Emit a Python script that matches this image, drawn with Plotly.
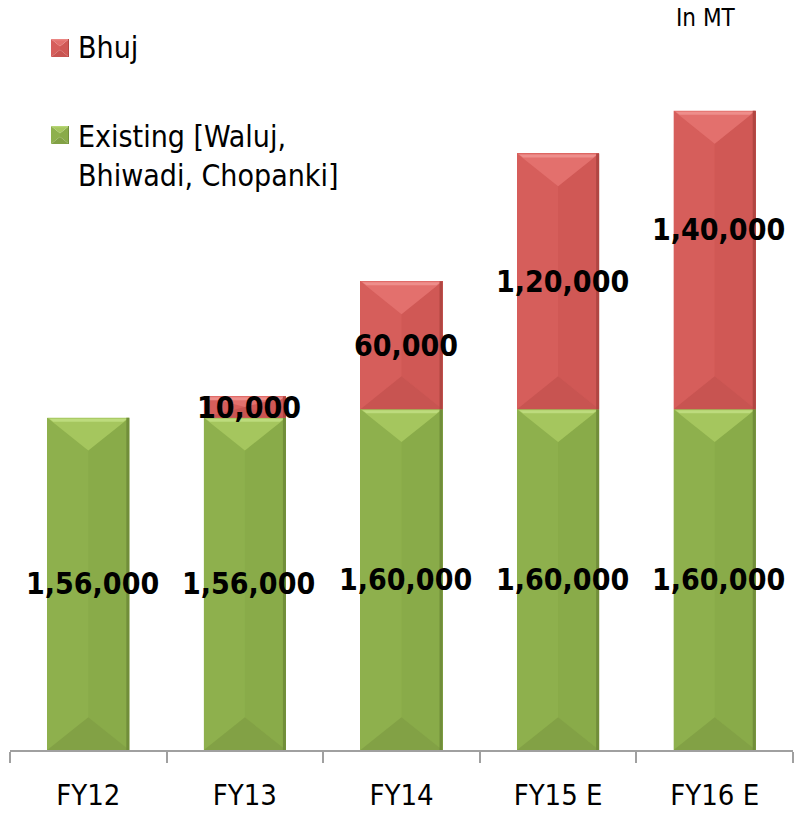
import plotly.graph_objects as go

# ---- data -------------------------------------------------------------
categories = ["FY12", "FY13", "FY14", "FY15 E", "FY16 E"]
existing = [156000, 156000, 160000, 160000, 160000]
bhuj = [0, 10000, 60000, 120000, 140000]
series_names = ["Bhuj", "Existing [Waluj,<br>Bhiwadi, Chopanki]"]
unit_note = "In MT"


def indian_format(v):
    s = str(int(v))
    if len(s) <= 3:
        return s
    head, tail = s[:-3], s[-3:]
    parts = []
    while len(head) > 2:
        parts.insert(0, head[-2:])
        head = head[:-2]
    if head:
        parts.insert(0, head)
    return ",".join(parts) + "," + tail


# ---- layout constants -------------------------------------------------
W, H = 794, 815
ML, MR, MT, MB = 10, 1, 15, 65
PW, PH = W - ML - MR, H - MT - MB
Y_MAX = 345000
BAR_W = 0.524            # in category units
FONT = "DejaVu Sans Condensed, DejaVu Sans, sans-serif"

# facet palettes: body-left, body-right, top, bottom, highlight, edge
GREEN = dict(left="#8eb04d", right="#89ab49", top="#a5c65e",
             bottom="#82a145", hi="#bddb7d", edge="#718e3a")
RED = dict(left="#d65e5b", right="#d05855", top="#e3706d",
           bottom="#c85451", hi="#ee8e8b", edge="#b04642")

# per-label pixel nudges for data labels
label_shift = {("bhuj", "FY16 E"): 31}

px_per_unit = PH / Y_MAX
cat_px = PW / len(categories)
half_w = BAR_W / 2
bevel_depth = 0.8 * (BAR_W * cat_px / 2) / px_per_unit   # data units
x_per_px = 1.0 / cat_px
y_per_px = 1.0 / px_per_unit


def poly(pts, color, xref="x", yref="y"):
    d = "M " + " L ".join(f"{x},{y}" for x, y in pts) + " Z"
    return dict(type="path", path=d, xref=xref, yref=yref,
                fillcolor=color, line=dict(width=0), layer="above")


def bevel(c, y0, y1, pal, hw, dd, xpx, ypx, xref="x", yref="y"):
    x0, x1 = c - hw, c + hw
    dd = min(dd, (y1 - y0) / 2)
    out = [
        poly([(x0, y1), (c, y1 - dd), (c, y0 + dd), (x0, y0)], pal["left"], xref, yref),
        poly([(x1, y1), (c, y1 - dd), (c, y0 + dd), (x1, y0)], pal["right"], xref, yref),
        poly([(x0, y0), (x1, y0), (c, y0 + dd)], pal["bottom"], xref, yref),
        poly([(x0, y1), (x1, y1), (c, y1 - dd)], pal["top"], xref, yref),
        # soft highlight along the top edge
        poly([(x0 + 2 * xpx, y1 - 1 * ypx), (x1 - 2 * xpx, y1 - 1 * ypx),
              (x1 - 6 * xpx, y1 - 4 * ypx), (x0 + 6 * xpx, y1 - 4 * ypx)],
             pal["hi"], xref, yref),
        # darker rim on the right side
        poly([(x1 - 3 * xpx, y1), (x1, y1), (x1, y0), (x1 - 3 * xpx, y0)],
             pal["edge"], xref, yref),
    ]
    return out


fig = go.Figure()
fig.add_trace(go.Bar(x=categories, y=existing, width=BAR_W, name="Existing",
                     marker=dict(color=GREEN["left"], line=dict(width=0)),
                     showlegend=False, hoverinfo="skip"))
fig.add_trace(go.Bar(x=categories, y=bhuj, width=BAR_W, name="Bhuj",
                     marker=dict(color=RED["left"], line=dict(width=0)),
                     showlegend=False, hoverinfo="skip"))

shapes = []
annotations = []
for i, cat in enumerate(categories):
    e, b = existing[i], bhuj[i]
    shapes += bevel(i, 0, e, GREEN, half_w, bevel_depth, x_per_px, y_per_px)
    annotations.append(dict(x=i, y=e / 2, xref="x", yref="y",
                            text=f"<b>{indian_format(e)}</b>", showarrow=False,
                            xanchor="center", yanchor="middle",
                            xshift=4, yshift=label_shift.get(("existing", cat), 0),
                            font=dict(family=FONT, size=30, color="black")))
    if b > 0:
        shapes += bevel(i, e, e + b, RED, half_w, bevel_depth, x_per_px, y_per_px)
        annotations.append(dict(x=i, y=e + b / 2, xref="x", yref="y",
                                text=f"<b>{indian_format(b)}</b>", showarrow=False,
                                xanchor="center", yanchor="middle",
                                xshift=4, yshift=label_shift.get(("bhuj", cat), 0),
                                font=dict(family=FONT, size=30, color="black")))


# ---- legend drawn in paper space ----------------------------------------
def xp(px):
    return (px - ML) / PW


def yp(py):
    return (H - MB - py) / PH


SW = 18
legend_rows = [(RED, series_names[0], 48), (GREEN, series_names[1], 135)]
for pal, label, cy in legend_rows:
    cx = 60
    hw_p = (SW / 2) / PW
    dd_p = 0.8 * (SW / 2) / PH
    shapes += bevel(xp(cx), yp(cy + SW / 2), yp(cy - SW / 2), pal, hw_p, dd_p,
                    0.3 / PW, 0.3 / PH, xref="paper", yref="paper")
    multi = "<br>" in label
    annotations.append(dict(x=xp(76), y=yp(cy - 18 if multi else cy),
                            xref="paper", yref="paper", text=label,
                            showarrow=False, xanchor="left",
                            yanchor="top" if multi else "middle", align="left",
                            font=dict(family=FONT, size=30, color="black")))

annotations.append(dict(x=xp(706), y=yp(18), xref="paper", yref="paper",
                        text=unit_note, showarrow=False,
                        xanchor="center", yanchor="middle",
                        font=dict(family=FONT, size=24, color="black")))

fig.update_layout(
    barmode="stack",
    width=W, height=H,
    margin=dict(l=ML, r=MR, t=MT, b=MB),
    paper_bgcolor="white", plot_bgcolor="white",
    showlegend=False,
    shapes=shapes,
    annotations=annotations,
    xaxis=dict(type="category", range=[-0.5, len(categories) - 0.5],
               showline=True, linecolor="#a0a0a0", linewidth=2,
               ticks="outside", tickson="boundaries", ticklen=11,
               tickwidth=2, tickcolor="#a0a0a0", showgrid=False,
               ticklabelstandoff=18,
               tickfont=dict(family=FONT, size=29, color="black")),
    yaxis=dict(visible=False, range=[0, Y_MAX], showgrid=False, zeroline=False),
)

fig.write_html("out.html")
